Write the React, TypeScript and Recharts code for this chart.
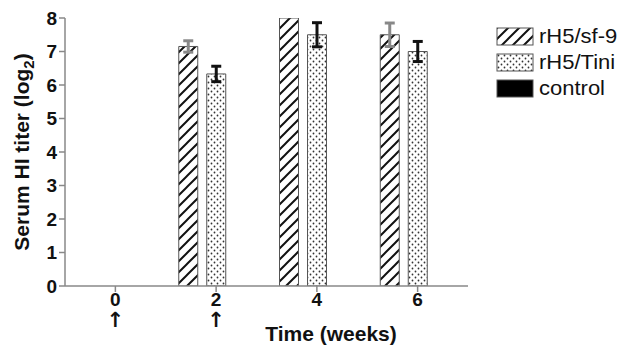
import { BarChart, Bar, XAxis, YAxis, ErrorBar } from "recharts";

const weeks = ["0", "2", "4", "6"];
const arrowWeeks = ["0", "2"];
const sf9 = [0, 7.15, 8, 7.5];
const sf9Err = [0, 0.17, 0, 0.35];
const tini = [0, 6.33, 7.5, 7.0];
const tiniErr = [0, 0.23, 0.36, 0.3];
const control = [0, 0, 0, 0];
const yTicks = [0, 1, 2, 3, 4, 5, 6, 7, 8];
const seriesNames = ["rH5/sf-9", "rH5/Tini", "control"];

const data = weeks.map((w, i) => ({
  week: w,
  sf9: sf9[i],
  sf9Err: sf9Err[i],
  tini: tini[i],
  tiniErr: tiniErr[i],
  control: control[i],
}));

const FONT = "'Liberation Sans', Arial, sans-serif";
const fills = ["url(#hatch)", "url(#dots)", "#000"];

function Patterns() {
  return (
    <defs>
      <pattern id="hatch" patternUnits="userSpaceOnUse" width="11" height="11">
        <rect width="11" height="11" fill="#fff" />
        <path d="M-2,13 L13,-2 M-2,2 L2,-2 M9,13 L13,9" stroke="#111" strokeWidth="2" />
      </pattern>
      <pattern id="dots" patternUnits="userSpaceOnUse" width="6" height="6">
        <rect width="6" height="6" fill="#fff" />
        <circle cx="1.5" cy="1.5" r="0.9" fill="#333" />
        <circle cx="4.5" cy="4.5" r="0.9" fill="#333" />
      </pattern>
    </defs>
  );
}

function WeekTick({ x, y, payload }: any) {
  return (
    <g>
      <text x={x} y={y + 12} textAnchor="middle" fontFamily={FONT} fontWeight="bold" fontSize={19} fill="#111">
        {payload.value}
      </text>
      {arrowWeeks.includes(payload.value) && (
        <text x={x} y={y + 33} textAnchor="middle" fontFamily="'DejaVu Sans', sans-serif" fontWeight="bold" fontSize={21} fill="#111">
          ↑
        </text>
      )}
    </g>
  );
}

function Legendbox() {
  return (
    <svg width={140} height={110} style={{ position: "absolute", left: 490, top: 0 }}>
      <Patterns />
      {seriesNames.map((name, i) => (
        <g key={name} transform={`translate(7, ${28 + i * 26})`}>
          <rect width={36} height={17} fill={fills[i]} stroke="#555" strokeWidth={1} />
          <text x={42} y={15} fontFamily={FONT} fontSize={20} fill="#111" transform="scale(1.1,1)" style={{ transformOrigin: "42px 0" }}>
            {name}
          </text>
        </g>
      ))}
    </svg>
  );
}

export default function App() {
  return (
    <div style={{ position: "absolute", left: 0, top: 0, width: 622, height: 350, background: "#fff" }}>
      <BarChart
        width={622}
        height={350}
        data={data}
        margin={{ top: 18, right: 154, bottom: 34, left: 0 }}
        barSize={19}
        barGap={9}
        barCategoryGap="12.5%"
      >
        <Patterns />
        <XAxis
          dataKey="week"
          height={30}
          axisLine={{ stroke: "#888", strokeWidth: 1.5 }}
          tickLine={{ stroke: "#888", strokeWidth: 1.5 }}
          tickSize={6}
          tick={<WeekTick />}
          interval={0}
          label={{
            content: () => (
              <text x={331} y={341} textAnchor="middle" fontFamily={FONT} fontWeight="bold" fontSize={21} fill="#111">
                Time (weeks)
              </text>
            ),
          }}
        />
        <YAxis
          width={65}
          domain={[0, 8]}
          ticks={yTicks}
          allowDataOverflow
          axisLine={{ stroke: "#888", strokeWidth: 1.5 }}
          tickLine={{ stroke: "#888", strokeWidth: 1.5 }}
          tickSize={6}
          tick={{ fontFamily: FONT, fontWeight: "bold", fontSize: 19, fill: "#111" }}
          label={{
            content: () => (
              <text
                x={0}
                y={0}
                transform="translate(29,152) rotate(-90)"
                textAnchor="middle"
                fontFamily={FONT}
                fontWeight="bold"
                fontSize={21}
                fill="#111"
              >
                Serum HI titer (log
                <tspan fontSize={15} dy={5}>2</tspan>
                <tspan dy={-5}>)</tspan>
              </text>
            ),
          }}
        />
        <Bar dataKey="sf9" name={seriesNames[0]} fill={fills[0]} stroke="#555" strokeWidth={1} isAnimationActive={false}>
          <ErrorBar dataKey="sf9Err" width={5} strokeWidth={3} stroke="#888" />
        </Bar>
        <Bar dataKey="tini" name={seriesNames[1]} fill={fills[1]} stroke="#555" strokeWidth={1} isAnimationActive={false}>
          <ErrorBar dataKey="tiniErr" width={5} strokeWidth={3} stroke="#111" />
        </Bar>
        <Bar dataKey="control" name={seriesNames[2]} fill={fills[2]} isAnimationActive={false} />
      </BarChart>
      <Legendbox />
    </div>
  );
}
